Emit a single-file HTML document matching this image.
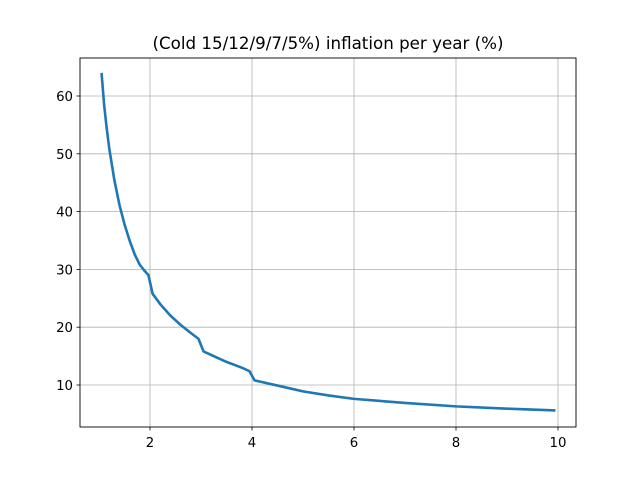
<!DOCTYPE html>
<html><head><meta charset="utf-8"><style>body{margin:0;background:#fff}svg{display:block;font-family:"DejaVu Sans","Liberation Sans",sans-serif}</style></head>
<body>
<svg id="chart" width="640" height="480" xmlns="http://www.w3.org/2000/svg">
<rect width="640" height="480" fill="#fff"/>
<text x="328" y="49" text-anchor="middle" font-size="16.7">(Cold 15/12/9/7/5%) inflation per year (%)</text>
<g id="grid"></g>
<g id="ticks"></g>
<path id="line" fill="none" stroke="#1f77b4" stroke-width="2.6" stroke-linejoin="round"/>
<rect x="80" y="58" width="496" height="369" fill="none" stroke="#000" stroke-width="0.9"/>
</svg>
<script>
const xs=[1.05,1.1,1.15,1.2,1.3,1.4,1.5,1.6,1.7,1.8,1.9,1.97,2.05,2.2,2.4,2.6,2.8,2.95,3.05,3.3,3.5,3.8,3.95,4.05,4.5,5,5.5,6,7,8,9,9.95];
const ys=[64,58.5,54.5,51,45.5,41.2,37.8,35,32.6,30.8,29.7,29,25.8,24,22,20.4,19,18,15.8,14.8,14,13,12.4,10.8,9.9,8.9,8.2,7.6,6.9,6.3,5.9,5.6];
const xTicks=[2,4,6,8,10];
const yTicks=[10,20,30,40,50,60];
const X=v=>150+(v-2)*51;
const Y=v=>96+(60-v)*5.78;
const NS="http://www.w3.org/2000/svg";
const grid=document.getElementById('grid'),ticks=document.getElementById('ticks');
function mk(t,a,p){const e=document.createElementNS(NS,t);for(const k in a)e.setAttribute(k,a[k]);p.appendChild(e);return e;}
xTicks.forEach(v=>{const x=X(v);
const g=mk('line',{x1:x,x2:x,y1:58,y2:427,stroke:'#b0b0b0','stroke-width':0.8},grid);


mk('line',{x1:x,x2:x,y1:427,y2:430.5,stroke:'#000','stroke-width':0.8},ticks);
const t=mk('text',{x:x,y:447,'text-anchor':'middle','font-size':13.3},ticks);t.textContent=v;

});
yTicks.forEach(v=>{const y=Y(v);
const g=mk('line',{x1:80,x2:576,y1:y,y2:y,stroke:'#b0b0b0','stroke-width':0.8},grid);


mk('line',{x1:76.5,x2:80,y1:y,y2:y,stroke:'#000','stroke-width':0.8},ticks);
const t=mk('text',{x:73,y:y+5,'text-anchor':'end','font-size':13.3},ticks);t.textContent=v;

});
document.getElementById('line').setAttribute('d',xs.map((v,i)=>(i?'L':'M')+X(v)+','+Y(ys[i])).join(''));
</script>
</body></html>
